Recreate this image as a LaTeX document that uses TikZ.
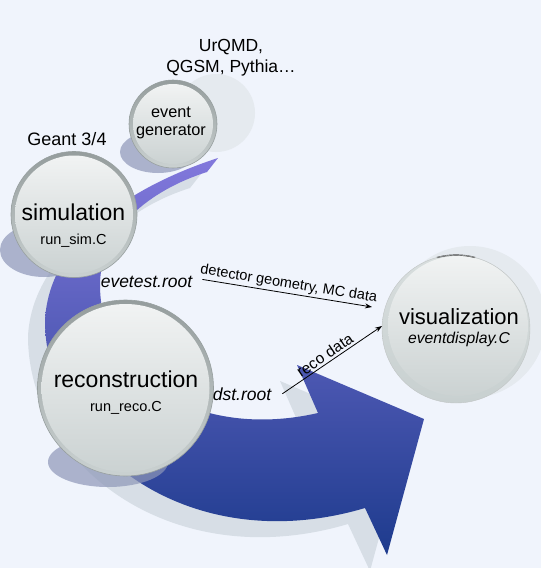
\documentclass[tikz,border=0pt]{standalone}
\usepackage{fontspec}
\setmainfont{Liberation Sans}
\usetikzlibrary{arrows.meta,calc}
\definecolor{bg}{HTML}{F0F4FC}
\definecolor{bandsh}{HTML}{D7DEE6}
\definecolor{bandtop}{HTML}{8278DC}
\definecolor{bandmid}{HTML}{4A56B0}
\definecolor{bandbot}{HTML}{1C3A8C}
\definecolor{darksh}{HTML}{8E97B8}
\definecolor{lightsh}{HTML}{E5EAEF}
\definecolor{rimtop}{HTML}{959D9D}
\definecolor{rimbot}{HTML}{CAD1D1}
\definecolor{intop}{HTML}{F1F3F3}
\definecolor{inbot}{HTML}{CBD2D2}
\definecolor{rimline}{HTML}{979F9F}
\definecolor{visrimtop}{HTML}{D8DEDE}
\definecolor{visrimbot}{HTML}{C8D0D0}
\newcommand\glassball[3]{%
  \shade[top color=rimtop, bottom color=rimbot] (#1,#2) circle (#3);
  \shade[top color=intop, bottom color=inbot] (#1,#2) circle ({#3-4});
  \draw[rimline, line width=0.6pt] (#1,#2) circle (#3);}
\def\bandpath{(218,158) .. controls (150,180) and (50,230) .. (45,320)
  .. controls (45,450) and (190,560) .. (365,508) -- (387,555) -- (424,419)
  -- (297,365) -- (318,413) .. controls (200,440) and (100,380) .. (100,285)
  .. controls (100,230) and (150,190) .. (207,172) -- cycle}
\tikzset{
  lbl/.style={inner sep=0pt, anchor=base, text=black},
  conn/.style={-{Stealth[length=7pt,width=5pt]}, line width=0.8pt, black},
  cirnode/.style={circle, inner sep=0pt},
}
\begin{document}
\begin{tikzpicture}[x=1pt,y=-1pt]
\fill[bg] (0,0) rectangle (541,568);
\useasboundingbox (0,0) rectangle (541,568);
% light shadows
\fill[lightsh] (470,322) circle (76);
% band shadow
\begin{scope}[shift={(-17,16)}]
  \fill[bandsh] \bandpath;
\end{scope}
% band
\shade[top color=bandtop, middle color=bandmid, bottom color=bandbot] \bandpath;
\fill[lightsh] (216,113) circle (39);
% dark shadows
\fill[darksh, opacity=0.7] (158,152) ellipse (38 and 21);
\fill[darksh, opacity=0.7] (44,250) ellipse (44 and 27);
\fill[darksh, opacity=0.7] (108,462) ellipse (60 and 25);
% balls
\glassball{173}{124}{44}
\glassball{74}{214.5}{63}
\glassball{125.5}{388}{88}
% visualization ball
\shade[top color=visrimtop, bottom color=visrimbot] (456,329) circle (74);
\shade[top color=intop, bottom color=inbot] (458,326) circle (70);
\draw[black!75, line width=1.2pt] ([shift={(255:74)}]456,329) arc (255:285:74);
\draw[rimline!60, line width=0.4pt] (456,329) circle (74);
% nodes
\node[cirnode, minimum size=88pt] (evgen) at (173,124) {};
\node[cirnode, minimum size=126pt] (sim) at (74,214.5) {};
\node[cirnode, minimum size=176pt] (reco) at (125.5,388) {};
\node[cirnode, minimum size=148pt] (vis) at (456,329) {};
% texts
\node[lbl, font=\fontsize{17.5}{21}\selectfont] (urqmd) at (231,51) {UrQMD,};
\node[lbl, font=\fontsize{17.5}{21}\selectfont] (qgsm) at (231,72) {QGSM, Pythia…};
\node[lbl, font=\fontsize{18}{21}\selectfont] (geant) at (67,145) {Geant 3/4};
\node[lbl, font=\fontsize{16.3}{20}\selectfont] (evt1) at (171,117) {event};
\node[lbl, font=\fontsize{16.3}{20}\selectfont] (evt2) at (171,135) {generator};
\node[lbl, font=\fontsize{23}{27}\selectfont] (simt) at (73.5,220) {simulation};
\node[lbl, font=\fontsize{14.5}{17}\selectfont] (simc) at (73.5,244) {run\_sim.C};
\node[lbl, font=\fontsize{23}{27}\selectfont] (recot) at (126,387) {reconstruction};
\node[lbl, font=\fontsize{14.5}{17}\selectfont] (recoc) at (126,411) {run\_reco.C};
\node[lbl, font=\fontsize{22}{26}\selectfont] (vist) at (459,324) {visualization};
\node[lbl, font=\fontsize{15.7}{19}\selectfont\itshape] (visc) at (459,343) {eventdisplay.C};
\node[lbl, font=\fontsize{17.5}{21}\selectfont\itshape] (evetest) at (146.5,287) {evetest.root};
\node[lbl, font=\fontsize{17.5}{21}\selectfont\itshape] (dst) at (242,400) {dst.root};
% connectors
\coordinate (visA) at (372,307);
\coordinate (visB) at (382,326);
\draw[conn] ([xshift=10pt,yshift=2pt]evetest.east) -- node[sloped, above, inner sep=2pt, font=\fontsize{14.5}{17}\selectfont]{detector geometry, MC data} (visA);
\draw[conn] ([xshift=11pt,yshift=0pt]dst.east) -- node[sloped, above, inner sep=2pt, pos=0.47, font=\fontsize{15.5}{18}\selectfont]{reco data} (visB);
\end{tikzpicture}
\end{document}
